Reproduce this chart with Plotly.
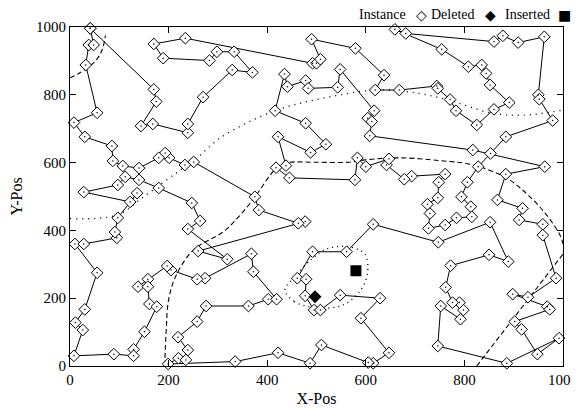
import plotly.graph_objects as go

# ---- tour of instance points (in visiting order) ----
tour_x = [41, 170, 175, 144, 168, 239, 239, 270, 329, 370, 333, 298, 283, 189, 170, 234,
          492, 500, 508, 490, 579, 637, 619, 668, 744, 746, 771, 783, 825, 860, 891, 852,
          844, 835, 808, 754, 659, 681, 860, 878, 909, 962, 950, 952, 979, 884, 853, 828,
          806, 794, 813, 815, 784, 761, 727, 730, 725, 746, 748, 761, 693, 678, 642, 647,
          600, 583, 578, 445, 418, 438, 422, 488, 519, 478, 416, 435, 441, 478, 483, 543,
          548, 617, 604, 612, 608, 817, 963, 884, 867, 918, 911, 959, 959, 986, 929, 898,
          968, 973, 902, 916, 948, 992, 886, 746, 752, 792, 798, 790, 776, 762, 772, 850,
          889, 852, 747, 615, 561, 492, 461, 479, 477, 495, 508, 548, 629, 590, 647, 615,
          605, 510, 487, 422, 335, 199, 220, 235, 239, 219, 258, 276, 362, 402, 419, 372,
          368, 274, 258, 205, 197, 158, 138, 158, 161, 176, 151, 129, 129, 89, 8, 26,
          11, 30, 55, 10, 28, 95, 91, 97, 136, 122, 28, 97, 112, 140, 180, 247,
          264, 239, 319, 260, 477, 463, 383, 375, 251, 233, 201, 193, 180, 140, 107, 87,
          85, 30, 8, 55, 32, 38, 48, 41]
tour_y = [996, 816, 780, 708, 714, 688, 714, 793, 873, 866, 927, 927, 901, 908, 950, 967,
          893, 893, 905, 964, 937, 858, 814, 814, 826, 819, 786, 753, 711, 757, 777, 829,
          863, 888, 883, 934, 993, 981, 957, 974, 954, 971, 800, 787, 724, 676, 627, 588,
          542, 499, 470, 440, 437, 416, 406, 450, 477, 496, 542, 566, 560, 551, 593, 611,
          588, 614, 549, 555, 585, 591, 676, 630, 654, 716, 753, 861, 824, 842, 819, 822,
          875, 753, 731, 721, 679, 637, 588, 566, 490, 465, 431, 418, 386, 259, 203, 212,
          175, 167, 131, 108, 35, 82, 8, 59, 177, 138, 165, 187, 187, 232, 296, 328,
          308, 424, 365, 418, 337, 337, 259, 256, 207, 165, 165, 209, 200, 141, 39, 8,
          10, 62, 8, 39, 13, 6, 23, 18, 47, 85, 131, 177, 177, 197, 197, 278,
          331, 259, 256, 283, 295, 256, 234, 234, 183, 175, 101, 49, 30, 35, 30, 106,
          128, 167, 275, 360, 360, 378, 395, 437, 510, 484, 513, 534, 558, 549, 525, 481,
          428, 404, 315, 339, 426, 421, 460, 499, 602, 593, 614, 628, 614, 584, 590, 605,
          649, 676, 718, 747, 888, 947, 947, 996]

deleted_x = [497]
deleted_y = [204]
inserted_x = [580]
inserted_y = [281]

# ---- contour curves ----
dotted_top_x = [0, 95, 150, 233, 257, 308, 416, 514, 619, 686, 767, 852, 919, 1000]
dotted_top_y = [435, 445, 500, 588, 613, 676, 753, 790, 814, 809, 785, 747, 740, 755]

dashed_main_x = [192, 195, 200, 214, 250, 311, 345, 368, 385, 406, 426, 446, 497, 565,
                 598, 666, 750, 818, 886, 933, 967, 994, 1000]
dashed_main_y = [0, 100, 195, 263, 342, 396, 445, 485, 519, 563, 593, 601, 601, 601,
                 608, 614, 606, 593, 554, 499, 445, 386, 360]

dashed_br_x = [825, 1000]
dashed_br_y = [0, 330]

dashed_tl_x = [0, 20, 50, 65, 72]
dashed_tl_y = [850, 865, 897, 932, 975]

ellipse_x = [436, 455, 500, 550, 585, 603, 598, 565, 520, 490, 455, 436]
ellipse_y = [224, 190, 172, 178, 215, 270, 330, 352, 345, 315, 262, 224]

x_ticks = [0, 200, 400, 600, 800, 1000]
y_ticks = [0, 200, 400, 600, 800, 1000]

legend_labels = ["Instance", "Deleted", "Inserted"]
legend_glyphs = ["\u25C7", "\u25C6", "\u25A0"]

SERIF = "Liberation Serif"

fig = go.Figure()

curve_style = dict(mode="lines", hoverinfo="skip", showlegend=False)
fig.add_trace(go.Scatter(x=dotted_top_x, y=dotted_top_y,
                         line=dict(color="black", width=1.4, dash="1px,5px", shape="spline"),
                         **curve_style))
fig.add_trace(go.Scatter(x=dashed_main_x, y=dashed_main_y,
                         line=dict(color="black", width=1.1, dash="5px,3px", shape="spline"),
                         **curve_style))
fig.add_trace(go.Scatter(x=dashed_br_x, y=dashed_br_y,
                         line=dict(color="black", width=1.1, dash="5px,3px"),
                         **curve_style))
fig.add_trace(go.Scatter(x=dashed_tl_x, y=dashed_tl_y,
                         line=dict(color="black", width=1.1, dash="5px,3px", shape="spline"),
                         **curve_style))
fig.add_trace(go.Scatter(x=ellipse_x, y=ellipse_y,
                         line=dict(color="black", width=1.4, dash="1px,4px", shape="spline"),
                         **curve_style))

# tour lines
fig.add_trace(go.Scatter(x=tour_x, y=tour_y, mode="lines",
                         line=dict(color="black", width=1), hoverinfo="skip",
                         showlegend=False))
# instance markers (white-filled diamonds with centre dot)
fig.add_trace(go.Scatter(x=tour_x, y=tour_y, mode="markers", cliponaxis=False,
                         marker=dict(symbol="diamond", size=9, color="white",
                                     line=dict(color="black", width=1)),
                         name="Instance", showlegend=False))
fig.add_trace(go.Scatter(x=tour_x, y=tour_y, mode="markers", cliponaxis=False,
                         marker=dict(symbol="circle", size=1.5, color="black"),
                         hoverinfo="skip", showlegend=False))
fig.add_trace(go.Scatter(x=deleted_x, y=deleted_y, mode="markers",
                         marker=dict(symbol="diamond", size=10, color="black"),
                         name="Deleted", showlegend=False))
fig.add_trace(go.Scatter(x=inserted_x, y=inserted_y, mode="markers",
                         marker=dict(symbol="square", size=11, color="black"),
                         name="Inserted", showlegend=False))

axis_common = dict(showgrid=False, zeroline=False, showline=True, linecolor="black",
                   linewidth=1, mirror="ticks", ticks="inside", ticklen=6,
                   tickcolor="black", automargin=False,
                   tickfont=dict(family=SERIF, size=15, color="black"))
fig.update_xaxes(range=[0, 1000], tickvals=x_ticks, ticktext=[str(v) for v in x_ticks],
                 title=dict(text="X-Pos", font=dict(family=SERIF, size=16, color="black"),
                            standoff=5),
                 **axis_common)
fig.update_yaxes(range=[0, 1000], tickvals=y_ticks, ticktext=[str(v) for v in y_ticks],
                 title=dict(text="Y-Pos", font=dict(family=SERIF, size=16, color="black"),
                            standoff=12),
                 **axis_common)

# key placed above the plot, gnuplot style: label then symbol
label_right = [0.686, 0.826, 0.978]
glyph_centre = [0.712, 0.852, 1.004]
for label, glyph, xt, xg in zip(legend_labels, legend_glyphs, label_right, glyph_centre):
    fig.add_annotation(text=label, xref="paper", yref="paper", x=xt, y=1.036,
                       xanchor="right", yanchor="middle", showarrow=False,
                       font=dict(family=SERIF, size=14, color="black"))
    fig.add_annotation(text=glyph, xref="paper", yref="paper", x=xg, y=1.036,
                       xanchor="center", yanchor="middle", showarrow=False,
                       font=dict(family="DejaVu Sans", size=14, color="black"))

# page body adds an 8px offset, so the figure is sized to fit the remaining window
fig.update_layout(width=571, height=401, margin=dict(l=62, r=16, t=19, b=43),
                  plot_bgcolor="white", paper_bgcolor="white", showlegend=False)

fig.write_html("out.html")
